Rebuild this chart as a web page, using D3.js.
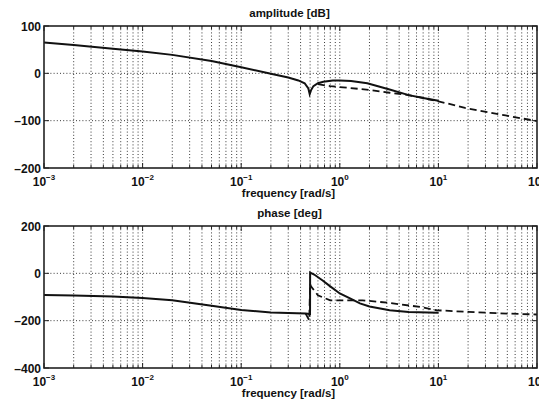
<!DOCTYPE html>
<html>
<head>
<meta charset="utf-8">
<style>
  body { margin: 0; background: #fff; }
  svg text { font-family: "Liberation Sans", Arial, sans-serif; font-weight: bold; fill: #111; }
  .frame { fill: none; stroke: #222; stroke-width: 1.6px; }
  .grid { stroke: #222; stroke-width: 0.9px; stroke-dasharray: 1,2.2; }
  .solid { fill: none; stroke: #111; stroke-width: 2px; }
  .dashed { fill: none; stroke: #111; stroke-width: 1.8px; stroke-dasharray: 7,4; }
</style>
</head>
<body>
<svg id="chart" width="539" height="403"></svg>
<script src="https://d3js.org/d3.v7.min.js"></script>
<script>
// amplitude [dB], solid curve
var ampFreq = [0.001, 0.002, 0.005, 0.01, 0.02, 0.05, 0.1, 0.2, 0.3, 0.38, 0.44, 0.48, 0.495, 0.51, 0.54, 0.6, 0.68, 0.85, 1.0, 1.3, 1.9, 3.2, 5, 7, 10];
var ampSolid = [65, 60, 52, 46, 39, 26, 13, -1, -9, -15, -21, -32, -44, -36, -27, -21, -18, -15, -15, -16, -21, -34, -46, -52, -58];
// amplitude [dB], dashed curve
var ampDashFreq = [0.6, 0.8, 1, 2, 3.2, 5, 6.6, 10, 18.6, 48, 100];
var ampDashed = [-23, -27, -29, -35, -41, -46, -51, -59, -73, -89, -101];

// phase [deg], solid curve
var phaseFreq = [0.001, 0.002, 0.005, 0.01, 0.02, 0.05, 0.1, 0.2, 0.3, 0.45, 0.499, 0.5, 0.55, 0.67, 0.8, 1.0, 1.3, 1.6, 2, 3.2, 5, 10];
var phaseSolid = [-92, -94, -98, -104, -114, -137, -155, -165, -168, -170, -172, 3, -5, -30, -55, -85, -108, -127, -140, -156, -163, -167];
// phase [deg], dashed curve
var phaseDashFreq = [0.45, 0.49, 0.5, 0.51, 0.6, 0.8, 1.7, 3.2, 6.5, 9.6, 20, 50, 100];
var phaseDashed = [-170, -198, -45, -55, -93, -114, -114, -125, -142, -156, -163, -170, -174];

var xTicks = [-3, -2, -1, 0, 1, 2];
var ampTicks = [100, 0, -100, -200];
var phaseTicks = [200, 0, -200, -400];

var svg = d3.select('#chart');
var left = 44, right = 537;

var x = d3.scaleLog().domain([1e-3, 1e2]).range([left, right]);

// minor grid positions: 1..9 per decade
var gridX = [];
for (var e = -3; e < 2; e++) {
  for (var m = 1; m < 10; m++) gridX.push(m * Math.pow(10, e));
}
gridX.push(100);

function panel(top, bottom, yDomain, yTicks, title, series) {
  var y = d3.scaleLinear().domain(yDomain).range([bottom, top]);
  var g = svg.append('g');

  // grid
  g.selectAll('.vg').data(gridX.slice(1, -1)).enter().append('line')
    .attr('class', 'grid')
    .attr('x1', d => x(d)).attr('x2', d => x(d))
    .attr('y1', top).attr('y2', bottom);
  g.selectAll('.hg').data(yTicks.slice(1, -1)).enter().append('line')
    .attr('class', 'grid')
    .attr('x1', left).attr('x2', right)
    .attr('y1', d => y(d)).attr('y2', d => y(d));

  // tick marks
  gridX.forEach(function (d) {
    var major = Math.abs(Math.log10(d) - Math.round(Math.log10(d))) < 1e-9;
    var len = major ? 5 : 3;
    g.append('line').attr('stroke', '#222').attr('stroke-width', 1)
      .attr('x1', x(d)).attr('x2', x(d)).attr('y1', bottom).attr('y2', bottom - len);
    g.append('line').attr('stroke', '#222').attr('stroke-width', 1)
      .attr('x1', x(d)).attr('x2', x(d)).attr('y1', top).attr('y2', top + len);
  });
  yTicks.forEach(function (d) {
    g.append('line').attr('stroke', '#222').attr('stroke-width', 1)
      .attr('x1', left).attr('x2', left + 5).attr('y1', y(d)).attr('y2', y(d));
    g.append('line').attr('stroke', '#222').attr('stroke-width', 1)
      .attr('x1', right).attr('x2', right - 5).attr('y1', y(d)).attr('y2', y(d));
  });

  // curves
  var line = d3.line().x(d => x(d[0])).y(d => y(d[1]));
  series.forEach(function (s) {
    g.append('path')
      .datum(d3.zip(s.f, s.v))
      .attr('class', s.cls)
      .attr('d', line);
  });

  g.append('rect').attr('class', 'frame')
    .attr('x', left).attr('y', top)
    .attr('width', right - left).attr('height', bottom - top);

  // y labels
  g.selectAll('.yl').data(yTicks).enter().append('text')
    .attr('x', left - 3).attr('y', d => y(d) + 4.5)
    .attr('text-anchor', 'end').attr('font-size', 12)
    .text(d => d < 0 ? '\u2013' + Math.abs(d) : d);

  // x labels 10^n
  xTicks.forEach(function (p) {
    var t = g.append('text')
      .attr('x', x(Math.pow(10, p))).attr('y', bottom + 18)
      .attr('text-anchor', 'middle').attr('font-size', 12);
    t.append('tspan').text('10');
    t.append('tspan').attr('font-size', 8).attr('dy', -6).text(p < 0 ? '\u2212' + Math.abs(p) : p);
  });

  g.append('text')
    .attr('x', (left + right) / 2 - 2).attr('y', bottom + 29)
    .attr('text-anchor', 'middle').attr('font-size', 11.5)
    .text('frequency [rad/s]');

  svg.append('text')
    .attr('x', (left + right) / 2 - 1).attr('y', top - 9)
    .attr('text-anchor', 'middle').attr('font-size', 11.5)
    .text(title);
}

panel(26, 168, [-200, 100], ampTicks, 'amplitude [dB]', [
  { f: ampDashFreq, v: ampDashed, cls: 'dashed' },
  { f: ampFreq, v: ampSolid, cls: 'solid' }
]);

panel(226, 368, [-400, 200], phaseTicks, 'phase [deg]', [
  { f: phaseDashFreq, v: phaseDashed, cls: 'dashed' },
  { f: phaseFreq, v: phaseSolid, cls: 'solid' }
]);
</script>
</body>
</html>
